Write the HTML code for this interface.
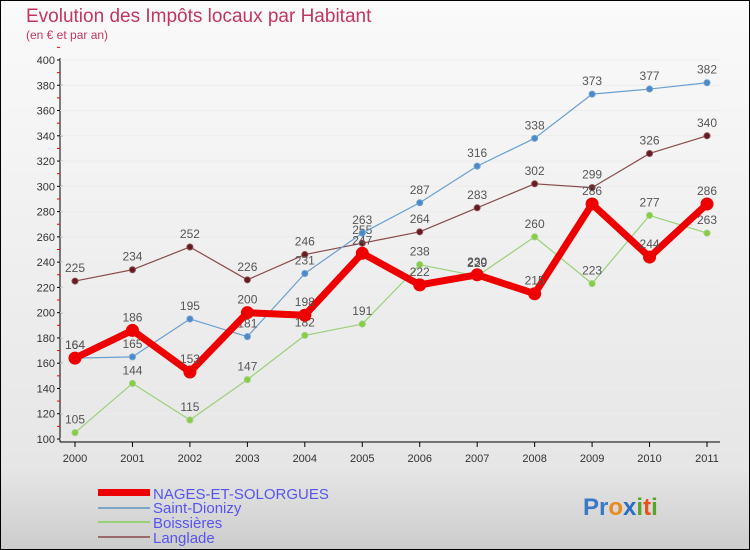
<!DOCTYPE html>
<html><head><meta charset="utf-8"><style>
body{margin:0;width:750px;height:550px;overflow:hidden;font-family:"Liberation Sans",sans-serif}
svg{display:block}
</style></head><body>
<svg id="c" width="750" height="550" viewBox="0 0 750 550" xmlns="http://www.w3.org/2000/svg">
<defs>
<linearGradient id="bg" x1="0" y1="0" x2="0" y2="1"><stop offset="0" stop-color="#fafafa"/><stop offset="0.85" stop-color="#e6e6e6"/><stop offset="1" stop-color="#cccccc"/></linearGradient>
</defs>
<rect x="0" y="0" width="750" height="550" fill="url(#bg)" stroke="#000" stroke-width="2"/>
<text x="26" y="22" font-size="19" fill="#c0365f">Evolution des Impôts locaux par Habitant</text>
<text x="26" y="39" font-size="12" fill="#c0365f">(en € et par an)</text>
<g id="axes"></g>
<g id="series"></g>
<g>
<rect x="98" y="489" width="52" height="7" fill="#ee0000"/>
<text x="153" y="499" font-size="15" fill="#5555ee">NAGES-ET-SOLORGUES</text>
<line x1="98" y1="508" x2="150" y2="508" stroke="#7aa6c8" stroke-width="2"/>
<text x="153" y="513" font-size="15" fill="#5555ee">Saint-Dionizy</text>
<line x1="98" y1="522" x2="150" y2="522" stroke="#99d177" stroke-width="2"/>
<text x="153" y="528" font-size="15" fill="#5555ee">Boissières</text>
<line x1="98" y1="537" x2="150" y2="537" stroke="#9a6a6a" stroke-width="2"/>
<text x="153" y="543" font-size="15" fill="#5555ee">Langlade</text>
</g>
<text x="583" y="515" font-size="24" font-weight="bold"><tspan fill="#3a78c8">Pr</tspan><tspan fill="#e98a1c">o</tspan><tspan fill="#2b6cc4">x</tspan><tspan fill="#58a52c">i</tspan><tspan fill="#e8501c">t</tspan><tspan fill="#58a52c">i</tspan></text>
</svg>
<script>
const years=[2000,2001,2002,2003,2004,2005,2006,2007,2008,2009,2010,2011];
const yTicks=[100,120,140,160,180,200,220,240,260,280,300,320,340,360,380,400];
const nages=[164,186,153,200,198,247,222,230,215,286,244,286];
const saintDionizy=[164,165,195,181,231,263,287,316,338,373,377,382];
const boissieres=[105,144,115,147,182,191,238,229,260,223,277,263];
const langlade=[225,234,252,226,246,255,264,283,302,299,326,340];
const NS="http://www.w3.org/2000/svg";
const xS=i=>75+i*(707-75)/11;
const yS=v=>439-(v-100)*(439-60)/300;
function mk(t,a,p){const e=document.createElementNS(NS,t);for(const k in a)e.setAttribute(k,a[k]);p.appendChild(e);return e;}
const ax=document.getElementById('axes');
let yl=mk('line',{x1:60,y1:58,x2:60,y2:442,stroke:'#000'},ax);


let xl=mk('line',{x1:60,y1:442,x2:720,y2:442,stroke:'#000'},ax);


yTicks.forEach(v=>{
 mk('line',{x1:57,y1:yS(v),x2:63,y2:yS(v),stroke:'#000'},ax);
 mk('line',{x1:57,y1:yS(v+10),x2:60,y2:yS(v+10),stroke:'#e00'},ax);
 const t=mk('text',{x:55,y:yS(v)+4,'font-size':11,fill:'#333','text-anchor':'end'},ax);
 t.textContent=v;
 
 
 mk('line',{x1:60,y1:yS(v),x2:720,y2:yS(v),stroke:'#ececec'},ax);
});
years.forEach((y,i)=>{
 mk('line',{x1:xS(i),y1:442,x2:xS(i),y2:447,stroke:'#000'},ax);
 const t=mk('text',{x:xS(i),y:462,'font-size':11,fill:'#333','text-anchor':'middle'},ax);
 t.textContent=y;
 
 
});
const sg=document.getElementById('series');
function draw(data,color,w,r,ptFill,name){
 const g=mk('g',{},sg);
 
 
 const p=mk('polyline',{points:data.map((v,i)=>xS(i)+','+yS(v)).join(' '),fill:'none',stroke:color,'stroke-width':w,'stroke-linejoin':'round'},g);
 
 
 data.forEach((v,i)=>{
  const c=mk('circle',{cx:xS(i),cy:yS(v),r:r,fill:ptFill,stroke:color,'stroke-width':1},g);
  
  
  const t=mk('text',{x:xS(i),y:yS(v)-9,'font-size':12,fill:'#555','text-anchor':'middle'},g);
  t.textContent=v;
  
  
 });
}
draw(boissieres,'#99d177',1.2,3,'#88cc44','boissieres');
draw(langlade,'#8a4a4a',1.2,3,'#661a22','langlade');
draw(saintDionizy,'#6a9fd0',1.2,3,'#4a8ac8','saint-dionizy');
draw(nages,'#ee0000',7,6,'#ee0000','nages');
</script>
</body></html>
